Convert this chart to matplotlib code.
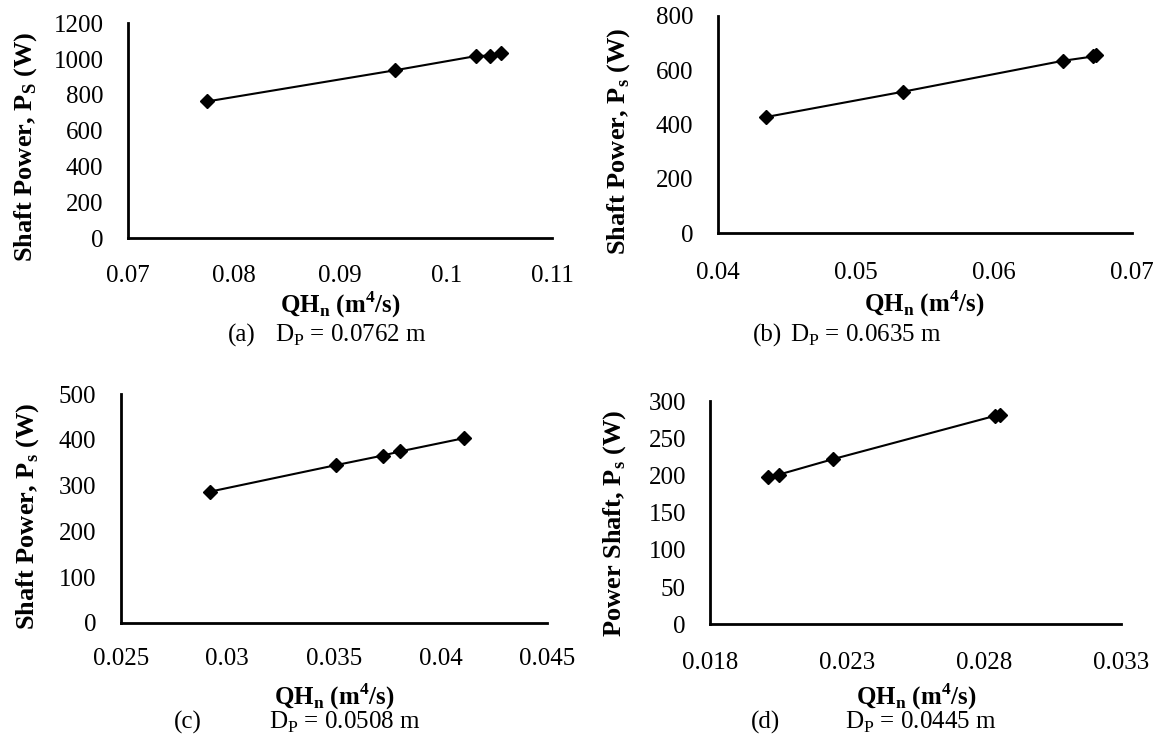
import matplotlib
matplotlib.use("Agg")
import matplotlib.pyplot as plt

plt.rcParams['font.family'] = ['Liberation Serif', 'DejaVu Serif']

# (a) Dp = 0.0762 m
qh_a = [0.0775, 0.0952, 0.1028, 0.1041, 0.1052]
ps_a = [764, 938, 1017, 1020, 1036]
# (b) Dp = 0.0635 m
qh_b = [0.0435, 0.0534, 0.0650, 0.0672, 0.0674]
ps_b = [428, 521, 635, 651, 657]
# (c) Dp = 0.0508 m
qh_c = [0.0292, 0.0351, 0.0373, 0.0381, 0.0411]
ps_c = [287, 345, 366, 375, 404]
# (d) Dp = 0.0445 m
qh_d = [0.0201, 0.0205, 0.0225, 0.0284, 0.0286]
ps_d = [198, 201, 222, 280, 281]

xticks_a = [0.07, 0.08, 0.09, 0.10, 0.11]
xtlab_a = ['0.07', '0.08', '0.09', '0.1', '0.11']
yticks_a = [0, 200, 400, 600, 800, 1000, 1200]
xticks_b = [0.04, 0.05, 0.06, 0.07]
xtlab_b = ['0.04', '0.05', '0.06', '0.07']
yticks_b = [0, 200, 400, 600, 800]
xticks_c = [0.025, 0.03, 0.035, 0.04, 0.045]
xtlab_c = ['0.025', '0.03', '0.035', '0.04', '0.045']
yticks_c = [0, 100, 200, 300, 400, 500]
xticks_d = [0.018, 0.023, 0.028, 0.033]
xtlab_d = ['0.018', '0.023', '0.028', '0.033']
yticks_d = [0, 50, 100, 150, 200, 250, 300]

xlab = r'QH$_{\mathregular{n}}$ (m$^{\mathregular{4}}$/s)'
ylab_a = r'Shaft Power, P$_{\mathregular{S}}$ (W)'
ylab_s = r'Shaft Power, P$_{\mathregular{s}}$ (W)'
ylab_d = r'Power Shaft, P$_{\mathregular{s}}$ (W)'

W, H = 1164, 742
fig = plt.figure(figsize=(W / 100, H / 100), dpi=100)


def make_ax(l, r, t, b):
    return fig.add_axes([l / W, 1 - b / H, (r - l) / W, (b - t) / H])


def panel(ax, x, y, xt, xtl, yt, ylabel, ylpos, xlpos, xpad):
    ax.plot(x, y, color='black', lw=1.5, marker='D', ms=7.5, clip_on=False)
    ax.set_xlim(xt[0], xt[-1])
    ax.set_ylim(yt[0], yt[-1])
    ax.set_xticks(xt)
    ax.set_xticklabels(xtl)
    ax.set_yticks(yt)
    for s in ['top', 'right']:
        ax.spines[s].set_visible(False)
    for s in ['left', 'bottom']:
        ax.spines[s].set_linewidth(2.0)
    ax.tick_params(axis='both', length=0, labelsize=18)
    ax.tick_params(axis='x', pad=xpad)
    ax.tick_params(axis='y', pad=17.5)
    # label positions given in figure pixels
    inv = ax.transAxes.inverted()
    ax.set_ylabel(ylabel, fontsize=19, fontweight='bold', va='center')
    ax.yaxis.set_label_coords(*inv.transform((ylpos[0], H - ylpos[1])))
    ax.set_xlabel(xlab, fontsize=18, fontweight='bold', va='center')
    ax.xaxis.set_label_coords(*inv.transform((xlpos[0], H - xlpos[1])))


ax_a = make_ax(127.7, 552.3, 23.3, 238.3)
ax_b = make_ax(717.7, 1131.8, 16, 233.3)
ax_c = make_ax(120.7, 547.2, 394.3, 622.7)
ax_d = make_ax(710.2, 1120.7, 401, 624.3)
fig.canvas.draw()

panel(ax_a, qh_a, ps_a, xticks_a, xtlab_a, yticks_a, ylab_a,
      (26, 147), (340, 305), 19.5)
panel(ax_b, qh_b, ps_b, xticks_b, xtlab_b, yticks_b, ylab_s,
      (619, 141.7), (924, 304), 20.5)
panel(ax_c, qh_c, ps_c, xticks_c, xtlab_c, yticks_c, ylab_s,
      (28, 516), (334, 697), 18)
panel(ax_d, qh_d, ps_d, xticks_d, xtlab_d, yticks_d, ylab_d,
      (615, 523.5), (916, 697), 20)

# captions
cap = dict(fontsize=18, ha='center', va='center')
fig.text(241.5 / W, 1 - 335 / H, '(a)', **cap)
fig.text(350.5 / W, 1 - 335 / H, r'D$_{\mathregular{P}}$ = 0.0762 m', **cap)
fig.text(767 / W, 1 - 335 / H, '(b)', **cap)
fig.text(866 / W, 1 - 335 / H, r'D$_{\mathregular{P}}$ = 0.0635 m', **cap)
fig.text(187.6 / W, 1 - 722 / H, '(c)', **cap)
fig.text(344.6 / W, 1 - 722 / H, r'D$_{\mathregular{P}}$ = 0.0508 m', **cap)
fig.text(766 / W, 1 - 722 / H, '(d)', **cap)
fig.text(921 / W, 1 - 722 / H, r'D$_{\mathregular{P}}$ = 0.0445 m', **cap)

fig.savefig('out.png', dpi=100)
